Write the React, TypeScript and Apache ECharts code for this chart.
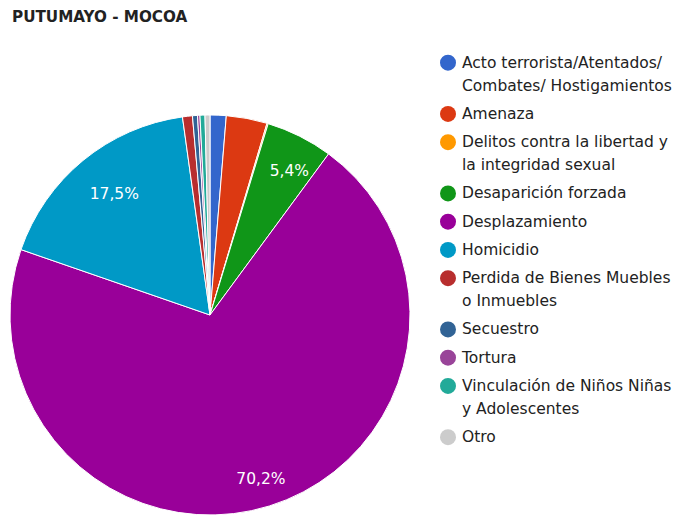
import React, { useEffect, useRef } from "react";
import * as echarts from "echarts";

const titleText = "PUTUMAYO - MOCOA";

const categories = [
  "Acto terrorista/Atentados/ Combates/ Hostigamientos",
  "Amenaza",
  "Delitos contra la libertad y la integridad sexual",
  "Desaparición forzada",
  "Desplazamiento",
  "Homicidio",
  "Perdida de Bienes Muebles o Inmuebles",
  "Secuestro",
  "Tortura",
  "Vinculación de Niños Niñas y Adolescentes",
  "Otro",
];

// legend text, one entry per line
const legendLines = [
  ["Acto terrorista/Atentados/", "Combates/ Hostigamientos"],
  ["Amenaza"],
  ["Delitos contra la libertad y", "la integridad sexual"],
  ["Desaparición forzada"],
  ["Desplazamiento"],
  ["Homicidio"],
  ["Perdida de Bienes Muebles", "o Inmuebles"],
  ["Secuestro"],
  ["Tortura"],
  ["Vinculación de Niños Niñas", "y Adolescentes"],
  ["Otro"],
];

// percentages
const values = [1.3, 3.3, 0.1, 5.4, 70.2, 17.5, 0.8, 0.4, 0.2, 0.4, 0.4];

const colors = [
  "#3366cc",
  "#dc3912",
  "#ff9900",
  "#109618",
  "#990099",
  "#0099c6",
  "#b82e2e",
  "#316395",
  "#994499",
  "#22aa99",
  "#cccccc",
];

// label nudges for the shown percentage labels (style only)
const labelOffsets: Record<string, number[]> = {
  "Desaparición forzada": [4, 6.5],
  Desplazamiento: [1, 4],
  Homicidio: [11, 9],
};

const FONT = "'DejaVu Sans', 'Liberation Sans', Arial, sans-serif";
const LH = 23;

export default function App() {
  const ref = useRef<HTMLDivElement>(null);

  useEffect(() => {
    if (!ref.current) return;
    const chart = echarts.init(ref.current, undefined, { renderer: "svg" });
    const center = [210, 315];
    const R = 200;

    const mainData = categories.map((name, i) => ({
      name,
      value: values[i],
      itemStyle: { color: colors[i] },
    }));
    const labelData = categories.map((name, i) => ({
      name,
      value: values[i],
      label: {
        show: values[i] >= 5,
        offset: labelOffsets[name] || [0, 0],
      },
    }));

    const rich: Record<string, any> = {
      t: { fontFamily: FONT, fontSize: 15.5, lineHeight: LH, color: "#222222" },
      g: { width: 6, height: 16, lineHeight: LH },
      sp: { width: 22, height: 16, lineHeight: LH },
    };
    colors.forEach((c, i) => {
      rich["c" + i] = {
        width: 16,
        height: 16,
        lineHeight: LH,
        borderRadius: 8,
        backgroundColor: c,
      };
    });

    chart.setOption({
      animation: false,
      backgroundColor: "#ffffff",
      title: {
        text: titleText,
        left: 12,
        top: 9,
        padding: 0,
        textStyle: {
          fontFamily: FONT,
          fontSize: 15.2,
          fontWeight: "bold",
          color: "#222222",
        },
      },
      legend: {
        orient: "vertical",
        left: 434,
        top: 51.2,
        padding: 0,
        itemWidth: 0,
        itemHeight: 0,
        itemGap: 5.25,
        icon: "circle",
        itemStyle: { opacity: 0 },
        selectedMode: false,
        formatter: (name: string) => {
          const i = categories.indexOf(name);
          if (i < 0) return name;
          const lines = legendLines[i];
          return lines
            .map((ln, k) =>
              k === 0 ? `{c${i}|}{g|}{t|${ln}}` : `{sp|}{t|${ln}}`
            )
            .join("\n");
        },
        textStyle: {
          fontFamily: FONT,
          fontSize: 15.5,
          lineHeight: LH,
          color: "#222222",
          rich,
        },
        data: categories,
      },
      series: [
        {
          type: "pie",
          center,
          radius: [0, R],
          startAngle: 90,
          clockwise: true,
          silent: true,
          label: { show: false },
          labelLine: { show: false },
          itemStyle: { borderColor: "#ffffff", borderWidth: 1 },
          data: mainData,
        },
        {
          type: "pie",
          center,
          radius: [0, 330],
          startAngle: 90,
          clockwise: true,
          silent: true,
          legendHoverLink: false,
          itemStyle: { color: "rgba(0,0,0,0)", borderWidth: 0 },
          labelLine: { show: false },
          label: {
            position: "inside",
            color: "#ffffff",
            fontFamily: FONT,
            fontSize: 15.5,
            formatter: (p: any) =>
              Number(p.value).toFixed(1).replace(".", ",") + "%",
          },
          data: labelData,
        },
      ],
    });

    return () => chart.dispose();
  }, []);

  return (
    <div
      ref={ref}
      style={{ position: "absolute", left: 0, top: 0, width: 683, height: 517 }}
    />
  );
}
